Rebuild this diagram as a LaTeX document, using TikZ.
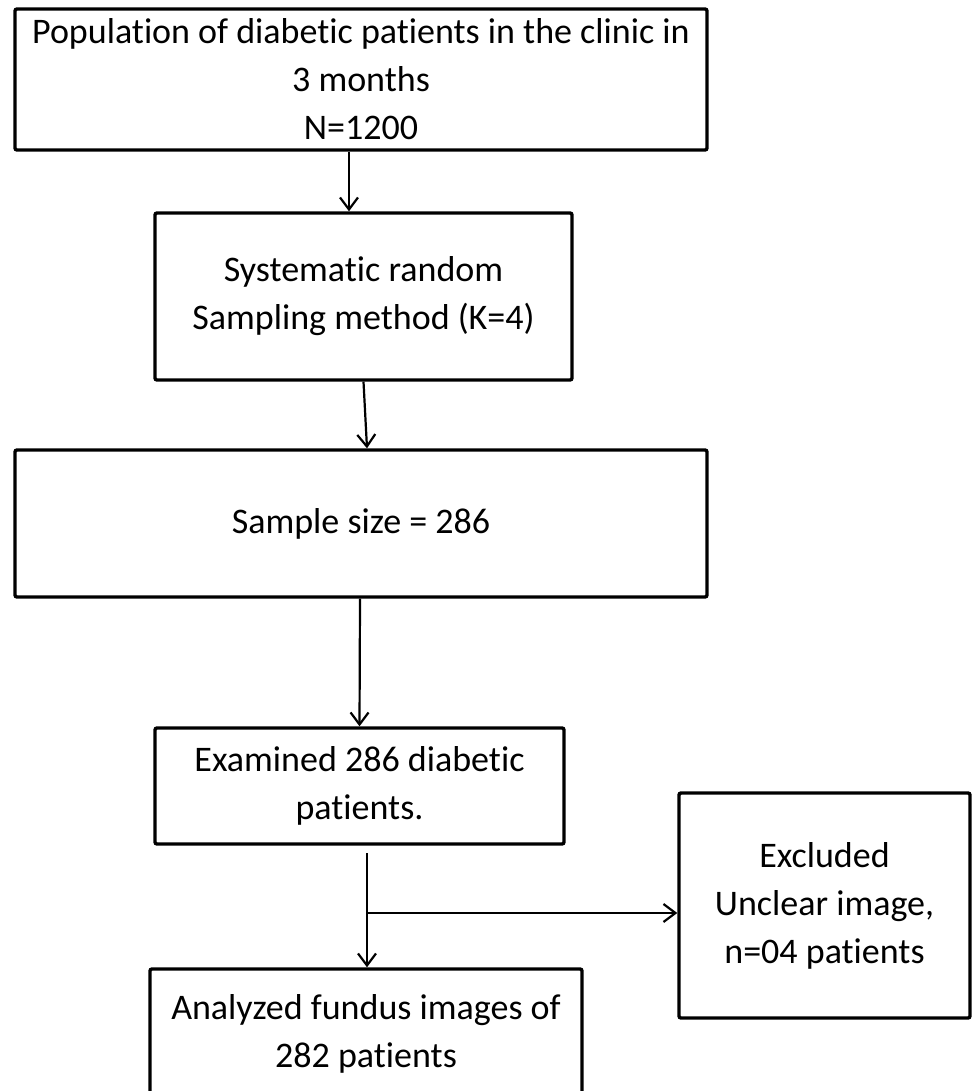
\documentclass[tikz,border=0pt]{standalone}
\usepackage{fontspec}
\setmainfont{Carlito}[Ligatures=NoCommon]
\usetikzlibrary{arrows.meta}

\tikzset{
  box/.style={draw, line width=1.7pt, rounded corners=1pt, align=center, inner sep=0pt,
    font=\fontsize{18}{24}\selectfont},
  arrow/.style={line width=1.1pt, -{Straight Barb[length=6pt,width=9pt]}}
}

\begin{document}
\begin{tikzpicture}[x=0.5pt,y=-0.5pt]
	\useasboundingbox (0,0) rectangle (972,1091);
	\clip (0,0) rectangle (972,1091);
	% boxes
	\node[box, minimum width=346pt, minimum height=70.5pt] (pop) at (361,79.5)
		{Population of diabetic patients in the clinic in\\3 months\\N=1200};
	\node[box, minimum width=208.5pt, minimum height=83.5pt] (sys) at (363.5,296.5)
		{Systematic random\\Sampling method (K=4)};
	\node[box, minimum width=346pt, minimum height=73.5pt] (size) at (361,523.5)
		{Sample size = 286};
	\node[box, minimum width=204.5pt, minimum height=58pt] (exam) at (359.5,786)
		{Examined 286 diabetic\\patients.};
	\node[box, minimum width=145.5pt, minimum height=112.5pt] (excl) at (824.5,905.5)
		{Excluded\\Unclear image,\\n=04 patients};
	\node[box, minimum width=216pt, minimum height=65pt] (anal) at (366,1034)
		{Analyzed fundus images of\\282 patients};
	% arrows
	\draw[arrow] ([xshift=-6pt]pop.south) -- ([xshift=-7.25pt]sys.north);
	\draw[arrow] (sys.south) -- ([xshift=3pt]size.north);
	\draw[arrow] ([xshift=-0.5pt]size.south) -- (exam.north);
	\coordinate (gap) at (367,853);
	\coordinate (split) at (367,913);
	\draw[arrow] (gap) -- (gap |- anal.north);
	\draw[arrow] (split) -- (split -| excl.west);
\end{tikzpicture}
\end{document}
